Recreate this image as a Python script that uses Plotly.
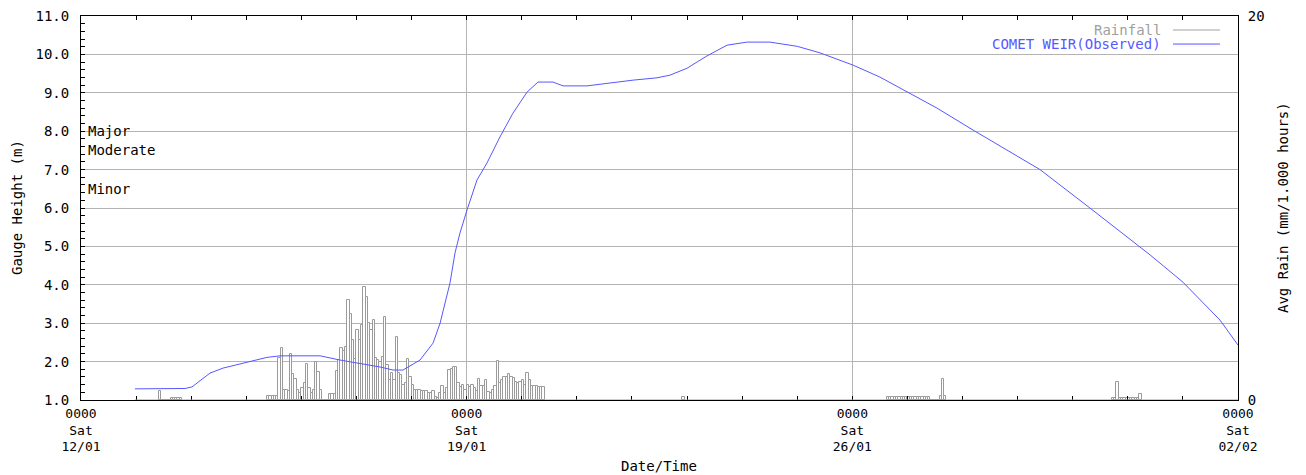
import pandas as pd
import plotly.graph_objects as go

# Comet Weir observed gauge height (m)
level_times = [
    "2019-01-12 23:30", "2019-01-13 21:20", "2019-01-14 00:20", "2019-01-14 08:10",
    "2019-01-14 13:50", "2019-01-15 00:20", "2019-01-15 09:00", "2019-01-15 14:40",
    "2019-01-16 08:10", "2019-01-16 16:50", "2019-01-17 01:30", "2019-01-17 10:15",
    "2019-01-17 15:55", "2019-01-17 20:15", "2019-01-18 03:40", "2019-01-18 09:20",
    "2019-01-18 12:25", "2019-01-18 16:45", "2019-01-18 18:55", "2019-01-18 21:05",
    "2019-01-19 00:10", "2019-01-19 04:30", "2019-01-19 08:50", "2019-01-19 14:30",
    "2019-01-19 20:10", "2019-01-20 02:20", "2019-01-20 07:05", "2019-01-20 13:35",
    "2019-01-20 18:00", "2019-01-21 04:25", "2019-01-22 00:30", "2019-01-22 10:55",
    "2019-01-22 16:35", "2019-01-23 00:00", "2019-01-23 05:40", "2019-01-23 08:40",
    "2019-01-23 17:25", "2019-01-24 02:05", "2019-01-24 12:05", "2019-01-25 00:00",
    "2019-01-25 09:55", "2019-01-26 00:20", "2019-01-26 12:00", "2019-01-26 23:50",
    "2019-01-27 12:55", "2019-01-28 04:35", "2019-01-29 09:45", "2019-01-30 07:30",
    "2019-01-31 09:40", "2019-02-01 00:00", "2019-02-01 16:10", "2019-02-02 00:00",
]
level_vals = [
    1.29, 1.30, 1.34, 1.70, 1.83, 1.99, 2.11, 2.15, 2.15, 2.04, 1.96, 1.86,
    1.78, 1.78, 2.04, 2.48, 3.00, 4.05, 4.83, 5.35, 5.95, 6.73, 7.17, 7.85,
    8.47, 9.02, 9.28, 9.28, 9.18, 9.18, 9.33, 9.39, 9.46, 9.64, 9.85, 9.96,
    10.24, 10.32, 10.32, 10.21, 10.04, 9.72, 9.41, 9.02, 8.60, 8.03, 7.00, 6.00,
    4.78, 4.07, 3.08, 2.43,
]

# hourly rainfall (mm), in runs starting at the given hour
rain_a_start = "2019-01-13 10:00"
rain_a = [0.45, 0, 0, 0, 0, 0.1, 0.1, 0.1, 0.1, 0.1]

rain_b_start = "2019-01-15 09:00"
rain_b = [
    0.23, 0.23, 0.23, 0.23, 0.23,
    2.17, 2.7, 0.5, 0.5, 0.45, 2.4, 1.35, 1.08, 0.5, 0.35, 0.6, 0.87, 1.9, 0.6,
    0.35, 0.5, 1.96, 1.48, 0.5,
    0, 0, 0,
    0.3, 0.3, 0.3,
    1.53, 2.08, 2.7, 2.57, 2.78, 5.2, 4.5, 3.1, 2.14, 3.65, 3.1, 3.9, 5.87, 5.38,
    4.0, 3.65, 4.17, 2.17, 2.08, 2.0, 2.26, 4.34, 1.82, 1.04, 1.39, 1.04, 3.3,
    1.42, 1.3,
    0.78, 0.87, 2.14, 1.2, 0.78, 0.5, 0.5, 0.5, 0.47, 0.47, 0.47, 0.35, 0.35,
    0.47, 0.17, 0.1, 0.35, 0.73, 0.35, 0.6, 1.56, 1.6, 1.7, 1.7, 0.87, 0.7, 0.78,
    0.5,
    0.78, 0.66, 0.78, 0.6, 0.49, 1.08, 0.73, 0.73, 1.04, 0.43, 0.35, 0.5, 0.73,
    2.05, 0.87, 1.04, 1.2, 1.2, 1.34, 1.2, 1.13, 0.95, 0.87, 0.95, 1.04, 0.78,
    1.42, 1.04, 0.73, 0.73, 0.73, 0.7, 0.66, 0.66,
]

rain_c_start = "2019-01-22 22:00"
rain_c = [0.15]

rain_d_start = "2019-01-26 15:00"
rain_d = [0.14] * 19 + [0, 0, 0, 0, 0.2, 1.1, 0.2]

rain_e_start = "2019-01-30 17:00"
rain_e = [0.1, 0.1, 0.95, 0.1, 0.1, 0.1, 0.1, 0.1, 0.1, 0.1, 0.1, 0.1, 0.3]

x_ticks = ["2019-01-12", "2019-01-19", "2019-01-26", "2019-02-02"]
x_labels = ["0000<br>Sat<br>12/01", "0000<br>Sat<br>19/01",
            "0000<br>Sat<br>26/01", "0000<br>Sat<br>02/02"]
gauge_ticks = list(range(1, 12))
flood_labels = ["Major", "Moderate", "Minor"]
flood_levels = [8.0, 7.5, 6.5]

MONO = "DejaVu Sans Mono"
FS = 14
GRID = "#b4b4b4"
BLUE = "#5757ff"
GREY = "#a0a0a0"

rain_x, rain_y = [], []
for start, vals in [(rain_a_start, rain_a), (rain_b_start, rain_b), (rain_c_start, rain_c),
                    (rain_d_start, rain_d), (rain_e_start, rain_e)]:
    rain_x += list(pd.date_range(start, periods=len(vals), freq="h"))
    rain_y += vals

fig = go.Figure()

fig.add_trace(go.Bar(
    x=rain_x, y=rain_y, yaxis="y",
    width=3600000, offset=0,
    marker=dict(color="white", line=dict(color="#9a9a9a", width=1)),
    name="Rainfall", showlegend=False,
))

fig.add_trace(go.Scatter(
    x=pd.to_datetime(level_times), y=level_vals, yaxis="y2",
    mode="lines", line=dict(color=BLUE, width=1),
    name="COMET WEIR(Observed)", showlegend=False,
))


def note(text, x, y, xanchor="center", color="black", angle=0, yref="paper"):
    return dict(text=text, x=x, xref="paper", y=y, yref=yref, xanchor=xanchor,
                yanchor="middle", textangle=angle, showarrow=False,
                font=dict(family=MONO, size=FS, color=color))


annotations = [note(t, 0.004, v, xanchor="left", yref="y2")
               for t, v in zip(flood_labels, flood_levels)]
annotations += [
    note("Gauge Height (m)", -0.0553, 0.5, angle=-90),
    note("Avg Rain (mm/1.000 hours)", 1.0389, 0.5, angle=-90),
    note("Date/Time", 0.4996, -0.172),
    note("Rainfall", 0.935, 0.9635, xanchor="right", color=GREY),
    note("COMET WEIR(Observed)", 0.935, 0.927, xanchor="right", color=BLUE),
]

shapes = [
    dict(type="line", xref="paper", yref="paper", x0=0.9438, x1=0.9844, y0=0.9635, y1=0.9635,
         line=dict(color=GREY, width=1)),
    dict(type="line", xref="paper", yref="paper", x0=0.9438, x1=0.9844, y0=0.927, y1=0.927,
         line=dict(color=BLUE, width=1)),
    dict(type="line", xref="x", yref="y", x0=level_times[0], x1="2019-02-02", y0=0, y1=0,
         line=dict(color="#9a9a9a", width=1), layer="above"),
]

# the page body adds an 8px offset, so the figure is 8px smaller and shifted
fig.update_layout(
    width=1298, height=467,
    margin=dict(l=73, r=68, t=8, b=75, autoexpand=False),
    plot_bgcolor="white", paper_bgcolor="white",
    font=dict(family=MONO, size=FS, color="black"),
    bargap=0,
    showlegend=False,
    xaxis=dict(
        type="date", range=["2019-01-12", "2019-02-02"],
        tickvals=x_ticks, ticktext=x_labels, automargin=False,
        showgrid=True, gridcolor=GRID, gridwidth=1,
        showline=True, linecolor="black", linewidth=1, mirror="ticks",
        ticks="inside", ticklen=4, tickcolor="black", ticklabelstandoff=1,
        ticklabeloverflow="allow",
        minor=dict(dtick=86400000, ticks="inside", ticklen=4, tickcolor="black", showgrid=False),
        tickfont=dict(family=MONO, size=13, color="black"),
        zeroline=False,
    ),
    yaxis=dict(
        range=[0, 20], side="right", tickvals=[0, 20], ticktext=["0", "20"],
        showgrid=False, showline=True, linecolor="black", linewidth=1, automargin=False,
        ticks="", zeroline=False, ticklabelstandoff=6, ticklabeloverflow="allow",
        tickfont=dict(family=MONO, size=FS, color="black"),
    ),
    yaxis2=dict(
        range=[1, 11], side="left", overlaying="y", automargin=False,
        tickvals=gauge_ticks, ticktext=[f"{v:.1f}" for v in gauge_ticks],
        showgrid=True, gridcolor=GRID, gridwidth=1,
        showline=True, linecolor="black", linewidth=1,
        ticks="inside", ticklen=4, tickcolor="black",
        minor=dict(dtick=0.2, ticks="inside", ticklen=4, tickcolor="black", showgrid=False),
        zeroline=False, ticklabelstandoff=8, ticklabeloverflow="allow",
        tickfont=dict(family=MONO, size=FS, color="black"),
    ),
    annotations=annotations,
    shapes=shapes,
)

fig.write_html("out.html")
